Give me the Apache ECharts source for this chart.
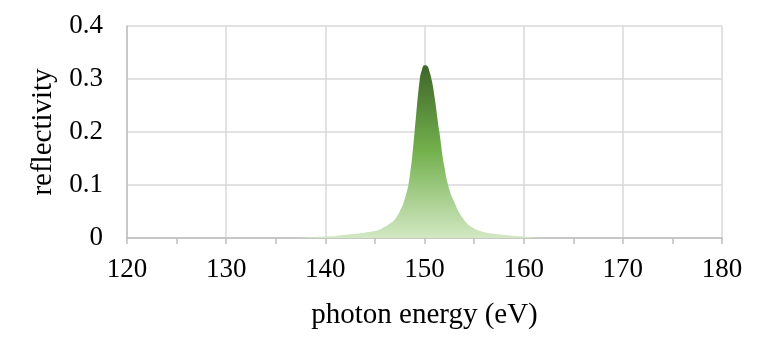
<!DOCTYPE html>
<html>
<head>
<meta charset="utf-8">
<script src="https://cdn.jsdelivr.net/npm/echarts@6/dist/echarts.min.js"></script>
<style>
  html, body { margin: 0; padding: 0; background: #fff; }
  #chart { width: 768px; height: 354px; }
</style>
</head>
<body>
<div id="chart"></div>
<script>
// values (photon energy in eV, reflectivity)
var energy = [137.5, 138, 139, 140, 141, 142, 143, 144, 145, 145.5, 146, 146.5, 147, 147.5, 148, 148.5,
  149, 149.5, 149.75, 150, 150.25, 150.5, 150.75, 151, 151.5, 152, 152.5, 153, 153.5, 154, 154.5,
  155, 155.5, 156, 157, 158, 159, 160, 161, 162];
var reflectivity = [0, 0.001, 0.002, 0.003, 0.004, 0.006, 0.008, 0.010, 0.013, 0.016, 0.021, 0.027, 0.035,
  0.050, 0.073, 0.115, 0.200, 0.296, 0.318, 0.326, 0.325, 0.314, 0.296, 0.268, 0.200, 0.135, 0.092,
  0.068, 0.048, 0.034, 0.024, 0.018, 0.014, 0.011, 0.008, 0.006, 0.004, 0.003, 0.001, 0];
var xTicks = [120, 130, 140, 150, 160, 170, 180];
var yTicks = [0, 0.1, 0.2, 0.3, 0.4];

var points = [];
for (var i = 0; i < energy.length; i++) {
  points.push([energy[i], reflectivity[i]]);
}

var myChart = echarts.init(document.getElementById('chart'));
var font = '"Liberation Serif", "Times New Roman", serif';
myChart.setOption({
  animation: false,
  grid: { left: 127, right: 46, top: 26, bottom: 116 },
  xAxis: {
    type: 'value',
    min: xTicks[0],
    max: xTicks[xTicks.length - 1],
    interval: 10,
    name: 'photon energy (eV)',
    nameLocation: 'middle',
    nameGap: 63,
    nameTextStyle: { fontFamily: font, fontSize: 29, color: '#000' },
    axisLine: { show: true, lineStyle: { color: '#bfbfbf', width: 1.5 } },
    axisTick: { show: true, length: 6, lineStyle: { color: '#bfbfbf', width: 1.5 } },
    minorTick: { show: true, splitNumber: 2, length: 6, lineStyle: { color: '#bfbfbf', width: 1.5 } },
    axisLabel: { fontFamily: font, fontSize: 27, color: '#000', margin: 18 },
    splitLine: { show: true, lineStyle: { color: '#d9d9d9', width: 1.5 } }
  },
  yAxis: {
    type: 'value',
    min: yTicks[0],
    max: yTicks[yTicks.length - 1],
    interval: 0.1,
    name: 'reflectivity',
    nameLocation: 'middle',
    nameGap: 68,
    nameTextStyle: { fontFamily: font, fontSize: 29, color: '#000' },
    axisLine: { show: true, lineStyle: { color: '#bfbfbf', width: 1.5 } },
    axisTick: { show: false },
    axisLabel: { fontFamily: font, fontSize: 27, color: '#000', margin: 24 },
    splitLine: { show: true, lineStyle: { color: '#d9d9d9', width: 1.5 } }
  },
  series: [{
    type: 'line',
    data: points,
    smooth: 0.5,
    symbol: 'none',
    lineStyle: { width: 0 },
    areaStyle: {
      opacity: 1,
      color: new echarts.graphic.LinearGradient(0, 0, 0, 1, [
        { offset: 0, color: '#3e6628' },
        { offset: 0.5, color: '#74b14e' },
        { offset: 1, color: '#d2e8c3' }
      ])
    }
  }]
});
</script>
</body>
</html>
